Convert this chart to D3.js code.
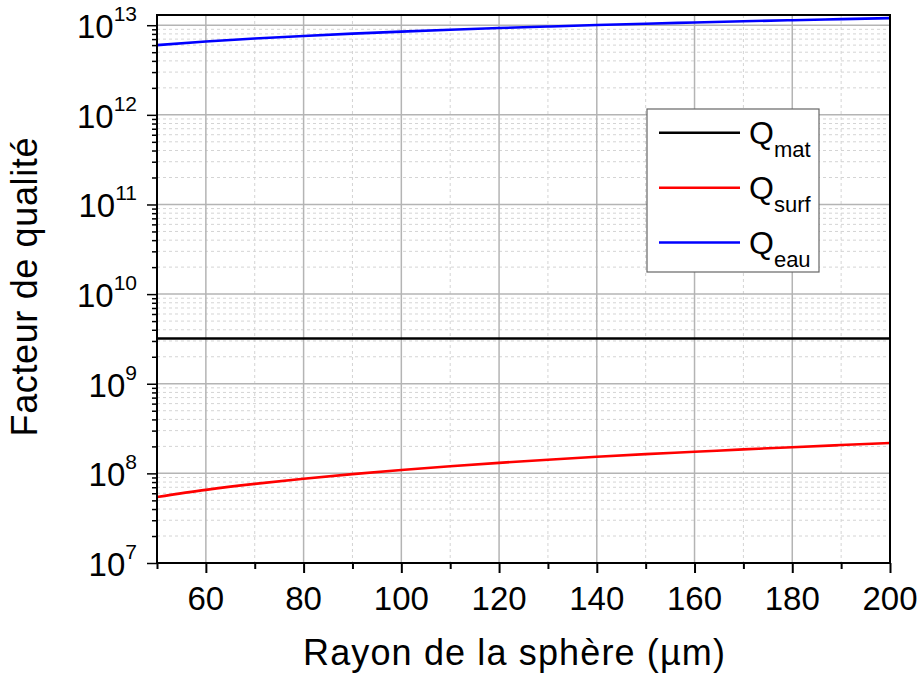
<!DOCTYPE html>
<html><head><meta charset="utf-8">
<script src="https://cdn.jsdelivr.net/npm/d3@7"></script>
<style>body{margin:0;background:#fff}svg{display:block;font-family:"Liberation Sans",Arial,sans-serif}</style>
</head><body><svg id="c" width="923" height="678"></svg>
<script>
const radius = [50,60,70,80,90,100,110,120,130,140,150,160,170,180,190,200];
const qMat  = [3.2e9,3.2e9,3.2e9,3.2e9,3.2e9,3.2e9,3.2e9,3.2e9,3.2e9,3.2e9,3.2e9,3.2e9,3.2e9,3.2e9,3.2e9,3.2e9];
const qSurf = [5.45e7,6.54e7,7.63e7,8.72e7,9.81e7,1.09e8,1.20e8,1.31e8,1.42e8,1.53e8,1.64e8,1.74e8,1.85e8,1.96e8,2.07e8,2.18e8];
const qEau  = [6.0e12,6.57e12,7.10e12,7.59e12,8.05e12,8.49e12,8.90e12,9.30e12,9.67e12,1.004e13,1.039e13,1.073e13,1.106e13,1.138e13,1.170e13,1.20e13];
const xTicks = [60,80,100,120,140,160,180,200];
const yExps = [7,8,9,10,11,12,13];
const seriesNames = ["mat","surf","eau"];
const seriesColors = ["#000000","#ff0000","#0000ff"];

const svg = d3.select("#c");
const L=157, T=15, R=890, B=563;
const x = d3.scaleLinear().domain([50,200]).range([L,R]);
const y = d3.scaleLog().domain([1e7,1.3e13]).range([B,T]);

// grid
const g = svg.append("g");
const minorX = d3.range(50,201,10).filter(v=>v%20!==0);
g.selectAll(".mx").data(minorX).enter().append("line")
  .attr("x1",d=>x(d)).attr("x2",d=>x(d)).attr("y1",T).attr("y2",B)
  .attr("stroke","#d4d4d4").attr("stroke-width",1).attr("stroke-dasharray","3,3");
const minorY=[];
yExps.forEach(e=>{for(let k=2;k<=9;k++){const v=k*Math.pow(10,e); if(v<=1.3e13) minorY.push(v);}});
g.selectAll(".my").data(minorY).enter().append("line")
  .attr("x1",L).attr("x2",R).attr("y1",d=>y(d)).attr("y2",d=>y(d))
  .attr("stroke","#d4d4d4").attr("stroke-width",1).attr("stroke-dasharray","3,3");
g.selectAll(".Mx").data(xTicks).enter().append("line")
  .attr("x1",d=>x(d)).attr("x2",d=>x(d)).attr("y1",T).attr("y2",B)
  .attr("stroke","#b4b4b4").attr("stroke-width",1.5);
g.selectAll(".My").data(yExps.map(e=>Math.pow(10,e))).enter().append("line")
  .attr("x1",L).attr("x2",R).attr("y1",d=>y(d)).attr("y2",d=>y(d))
  .attr("stroke","#b4b4b4").attr("stroke-width",1.5);

// series
const line = d3.line().x((d,i)=>x(radius[i])).y(d=>y(d)).curve(d3.curveMonotoneX);
[qMat,qSurf,qEau].forEach((s,i)=>{
  svg.append("path").attr("d",line(s)).attr("fill","none")
    .attr("stroke",seriesColors[i]).attr("stroke-width",2.6);
});

// axes
const xAxis = d3.axisBottom(x).tickValues(d3.range(50,201,10)).tickSize(10).tickFormat("");
const ax = svg.append("g").attr("transform",`translate(0,${B})`).call(xAxis);
ax.selectAll(".tick line").attr("stroke","#000").attr("stroke-width",2)
  .attr("y2",d=>d%20===0?10:6);
ax.select(".domain").remove();
svg.selectAll(".xl").data(xTicks).enter().append("text")
  .attr("x",d=>x(d)).attr("y",B+47).attr("text-anchor","middle")
  .attr("font-size",33).attr("fill","#000").text(d=>d);

const allY = yExps.map(e=>Math.pow(10,e)).concat(minorY);
const yAxis = d3.axisLeft(y).tickValues(allY).tickFormat("");
const ay = svg.append("g").attr("transform",`translate(${L},0)`).call(yAxis);
ay.selectAll(".tick line").attr("stroke","#000").attr("stroke-width",1.5)
  .attr("x2",d=>{const l=Math.log10(d);return Math.abs(l-Math.round(l))<1e-9?-10:-5;});
ay.select(".domain").remove();
const yl = svg.selectAll(".yl").data(yExps).enter().append("text")
  .attr("x",137).attr("y",d=>y(Math.pow(10,d))+13).attr("text-anchor","end")
  .attr("font-size",33).attr("fill","#000");
yl.append("tspan").text("10");
yl.append("tspan").attr("font-size",21).attr("dy",-17).text(d=>d);

// frame
svg.append("rect").attr("x",L).attr("y",T).attr("width",R-L).attr("height",B-T)
  .attr("fill","none").attr("stroke","#000").attr("stroke-width",2);

// titles
svg.append("text").attr("x",514).attr("y",665).attr("text-anchor","middle")
  .attr("font-size",36).attr("textLength",422).attr("lengthAdjust","spacing")
  .attr("fill","#000").text("Rayon de la sphère (µm)");
svg.append("text").attr("transform",`translate(37,287) rotate(-90)`)
  .attr("text-anchor","middle").attr("font-size",36).attr("textLength",299).attr("lengthAdjust","spacing")
  .attr("fill","#000").text("Facteur de qualité");

// legend
const lg = svg.append("g");
lg.append("rect").attr("x",647).attr("y",109).attr("width",172).attr("height",163)
  .attr("fill","#fff").attr("stroke","#666").attr("stroke-width",1.2);
const ly = [132.7,187.7,242.5];
seriesNames.forEach((n,i)=>{
  lg.append("line").attr("x1",659).attr("x2",740).attr("y1",ly[i]).attr("y2",ly[i])
    .attr("stroke",seriesColors[i]).attr("stroke-width",2.5);
  const t = lg.append("text").attr("x",749).attr("y",ly[i]+11).attr("font-size",32).attr("fill","#000");
  t.append("tspan").text("Q");
  t.append("tspan").attr("font-size",22).attr("dy",13).text(n);
});
</script></body></html>
